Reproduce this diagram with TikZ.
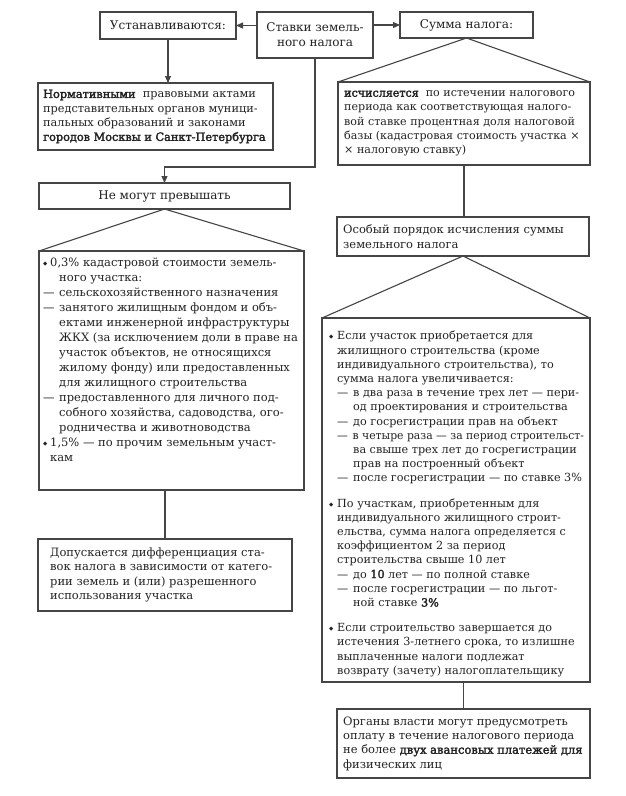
\documentclass[tikz,border=0pt]{standalone}
\usepackage{fontspec}
\setmainfont[BoldFont=DejaVu Serif,BoldFeatures={FakeBold=2.4}]{DejaVu Serif}
\newfontfamily\symfont{DejaVu Sans}
\usetikzlibrary{arrows.meta}
\definecolor{lc}{HTML}{454545}
\definecolor{tc}{HTML}{222222}
\newcommand{\blt}{\makebox[7pt][l]{\raisebox{1pt}{\symfont\fontsize{5.5}{6}\selectfont ◆}}}
\newcommand{\dd}{\makebox[16pt][l]{—}}
\begin{document}
\begin{tikzpicture}[x=1pt,y=-1pt,
  box/.style={draw=lc,line width=1.1pt,anchor=north west,inner sep=0pt,outer sep=0pt,
              text=tc,font=\fontsize{12}{15}\selectfont,align=center},
  txt/.style={text=tc,font=\fontsize{11.5}{14.3}\selectfont,align=left,inner sep=0pt},
  arr/.style={draw=lc,line width=1.1pt,-{Triangle[length=7pt,width=6pt]}},
  ln/.style={draw=lc,line width=1.1pt}]
\useasboundingbox[fill=white] (0,0) rectangle (625,796);

% top row
\node[box,minimum width=136pt,minimum height=27pt] (ust) at (100,12) {Устанавливаются:};
\node[box,minimum width=116pt,minimum height=46pt] (stavki) at (257,12) {Ставки земель-\\ного налога};
\node[box,minimum width=133pt,minimum height=26pt] (summa) at (400,12) {Сумма налога:};

% left column
\node[box,minimum width=235pt,minimum height=67pt] (norm) at (38,83) {};
\node[txt,anchor=west,font=\fontsize{11.3}{14.3}\selectfont] (tnorm) at ([xshift=5pt]norm.west) {\textbf{Нормативными}\ \ правовыми актами\\
представительных органов муници-\\
пальных образований и законами\\
\textbf{городов Москвы и Санкт-Петербурга}};

\node[box,minimum width=251pt,minimum height=26pt] (nemogut) at (39,183) {Не могут превышать};

\node[box,minimum width=265pt,minimum height=239pt] (rates) at (39,251) {};
\node[txt,anchor=north west,font=\fontsize{11.5}{15}\selectfont] (trates) at (43,258) {\blt 0,3\% кадастровой стоимости земель-\\
\hspace*{16pt}ного участка:\\
\dd сельскохозяйственного назначения\\
\dd занятого жилищным фондом и объ-\\
\hspace*{16pt}ектами инженерной инфраструктуры\\
\hspace*{16pt}ЖКХ (за исключением доли в праве на\\
\hspace*{16pt}участок объектов, не относящихся\\
\hspace*{16pt}жилому фонду) или предоставленных\\
\hspace*{16pt}для жилищного строительства\\
\dd предоставленного для личного под-\\
\hspace*{16pt}собного хозяйства, садоводства, ого-\\
\hspace*{16pt}родничества и животноводства\\
\blt 1,5\% — по прочим земельным участ-\\
\hspace*{7pt}кам};

\node[box,minimum width=254pt,minimum height=72pt] (dop) at (38,539) {};
\node[txt,anchor=west] (tdop) at ([xshift=12pt]dop.west) {Допускается дифференциация ста-\\
вок налога в зависимости от катего-\\
рии земель и (или) разрешенного\\
использования участка};

% right column
\node[box,minimum width=252pt,minimum height=83pt] (isch) at (338,82) {};
\node[txt,anchor=west,font=\fontsize{11.1}{14.3}\selectfont] (tisch) at ([xshift=6pt]isch.west) {\textbf{исчисляется}\ \ по истечении налогового\\
периода как соответствующая налого-\\
вой ставке процентная доля налоговой\\
базы (кадастровая стоимость участка ×\\
× налоговую ставку)};

\node[box,minimum width=252pt,minimum height=39pt] (osob) at (337,217) {};
\node[txt,anchor=west] (tosob) at ([xshift=6pt]osob.west) {Особый порядок исчисления суммы\\
земельного налога};

\node[box,minimum width=268pt,minimum height=364pt] (spec) at (322,318) {};
\node[txt,anchor=north west,font=\fontsize{11.2}{14.2}\selectfont] (tspec) at (329,331) {\makebox[8pt][l]{\blt}Если участок приобретается для\\
\hspace*{8pt}жилищного строительства (кроме\\
\hspace*{8pt}индивидуального строительства), то\\
\hspace*{8pt}сумма налога увеличивается:\\
\hspace*{8pt}\dd в два раза в течение трех лет — пери-\\
\hspace*{24pt}од проектирования и строительства\\
\hspace*{8pt}\dd до госрегистрации прав на объект\\
\hspace*{8pt}\scalebox{0.965}[1]{\dd в четыре раза — за период строительст-}\\
\hspace*{24pt}ва свыше трех лет до госрегистрации\\
\hspace*{24pt}прав на построенный объект\\
\hspace*{8pt}\dd после госрегистрации — по ставке 3\%\\[11pt]
\makebox[8pt][l]{\blt}По участкам, приобретенным для\\
\hspace*{8pt}индивидуального жилищного строит-\\
\hspace*{8pt}ельства, сумма налога определяется с\\
\hspace*{8pt}коэффициентом 2 за период\\
\hspace*{8pt}строительства свыше 10 лет\\
\hspace*{8pt}\dd до \textbf{10} лет — по полной ставке\\
\hspace*{8pt}\dd после госрегистрации — по льгот-\\
\hspace*{24pt}ной ставке \textbf{3\%}\\[11pt]
\makebox[8pt][l]{\blt}Если строительство завершается до\\
\hspace*{8pt}истечения 3-летнего срока, то излишне\\
\hspace*{8pt}выплаченные налоги подлежат\\
\hspace*{8pt}возврату (зачету) налогоплательщику};

\node[box,minimum width=253pt,minimum height=69pt] (org) at (337,709) {};
\node[txt,anchor=west] (torg) at ([xshift=6pt]org.west) {Органы власти могут предусмотреть\\
оплату в течение налогового периода\\
не более \textbf{двух авансовых платежей для}\\
физических лиц};

% connectors
\coordinate (bendL) at (0,167);
\draw[arr] (stavki.west |- ust.east) -- (ust.east);
\draw[arr] (stavki.east |- summa.west) -- (summa.west);
\draw[arr] (ust.south) -- (ust.south |- norm.north);
\draw[arr] (stavki.south) -- (stavki.south |- bendL) -| (nemogut.north);
\draw[ln] (summa.south) -- (isch.north west) (summa.south) -- (isch.north east);
\draw[ln] (isch.south) -- (isch.south |- osob.north);
\draw[ln] (osob.south) -- (spec.north west) (osob.south) -- (spec.north east);
\draw[ln] (org.north |- spec.south) -- (org.north);
\draw[ln] (nemogut.south) -- (rates.north west) (nemogut.south) -- (rates.north east);
\draw[ln] (dop.north |- rates.south) -- (dop.north);
\end{tikzpicture}
\end{document}
